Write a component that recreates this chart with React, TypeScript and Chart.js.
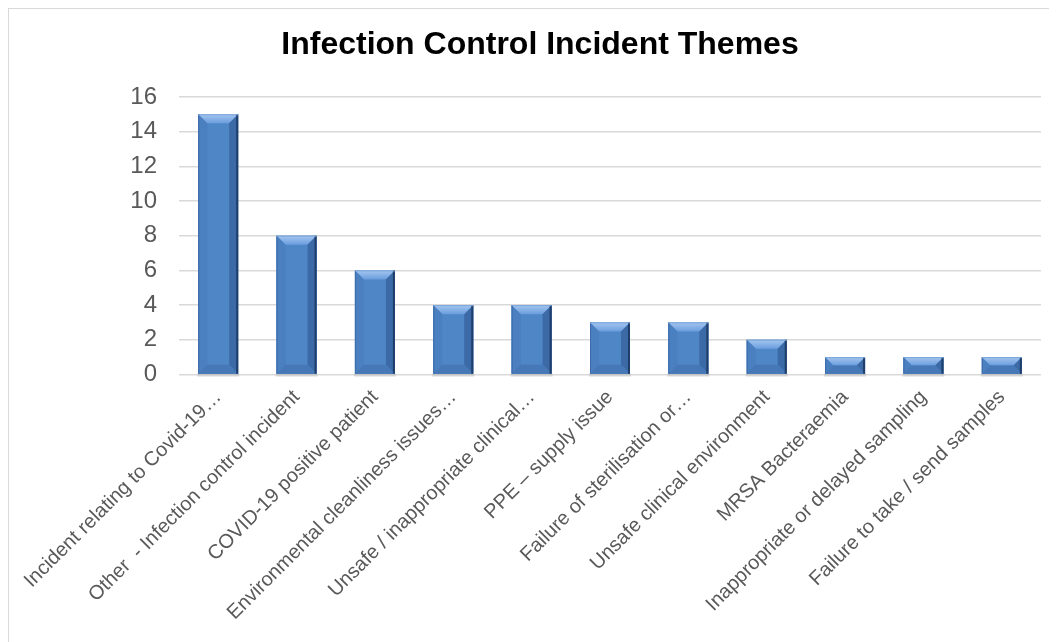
import React, { useEffect, useRef } from "react";
import { Chart, registerables } from "chart.js";

Chart.register(...registerables);

const chartTitle = "Infection Control Incident Themes";

const categories = [
  "Incident relating to Covid-19…",
  "Other  - Infection control incident",
  "COVID-19 positive patient",
  "Environmental cleanliness issues…",
  "Unsafe / inappropriate clinical…",
  "PPE – supply issue",
  "Failure of sterilisation or…",
  "Unsafe clinical environment",
  "MRSA Bacteraemia",
  "Inappropriate or delayed sampling",
  "Failure to take / send samples",
];

const incidentCounts = [15, 8, 6, 4, 4, 3, 3, 2, 1, 1, 1];

const yTickValues = [0, 2, 4, 6, 8, 10, 12, 14, 16];

const FONT = '"Liberation Sans", Arial, sans-serif';

const bevelPlugin = {
  id: "bevelBars",
  beforeDatasetsDraw(chart: any) {
    const ctx = chart.ctx;
    const meta = chart.getDatasetMeta(0);
    ctx.save();
    meta.data.forEach((el: any) => {
      const { x, base, width } = el.getProps(["x", "base", "width"], true);
      ctx.fillStyle = "rgba(0,0,0,0.10)";
      ctx.fillRect(x - width / 2 - 1, base, width + 2, 3);
    });
    ctx.restore();
  },
  afterDatasetsDraw(chart: any) {
    const ctx = chart.ctx;
    const meta = chart.getDatasetMeta(0);
    ctx.save();
    meta.data.forEach((el: any) => {
      const { x, y, base, width } = el.getProps(["x", "y", "base", "width"], true);
      const x0 = x - width / 2;
      const x1 = x + width / 2;
      const yt = y;
      const yb = base;
      const b = Math.min(9, (yb - yt) / 2, width / 2);
      ctx.fillStyle = "#4f86c6";
      ctx.fillRect(x0, yt, x1 - x0, yb - yt);
      const gTop = ctx.createLinearGradient(0, yt, 0, yt + b);
      gTop.addColorStop(0, "#a5c6f0");
      gTop.addColorStop(1, "#6a9ddd");
      ctx.fillStyle = gTop;
      ctx.beginPath();
      ctx.moveTo(x0, yt);
      ctx.lineTo(x1, yt);
      ctx.lineTo(x1 - b, yt + b);
      ctx.lineTo(x0 + b, yt + b);
      ctx.closePath();
      ctx.fill();
      ctx.fillStyle = "#4a7fc0";
      ctx.beginPath();
      ctx.moveTo(x0, yt);
      ctx.lineTo(x0 + b, yt + b);
      ctx.lineTo(x0 + b, yb - b);
      ctx.lineTo(x0, yb);
      ctx.closePath();
      ctx.fill();
      ctx.fillStyle = "#3c6aa6";
      ctx.beginPath();
      ctx.moveTo(x1, yt);
      ctx.lineTo(x1, yb);
      ctx.lineTo(x1 - b, yb - b);
      ctx.lineTo(x1 - b, yt + b);
      ctx.closePath();
      ctx.fill();
      ctx.fillStyle = "#4677b6";
      ctx.beginPath();
      ctx.moveTo(x0, yb);
      ctx.lineTo(x0 + b, yb - b);
      ctx.lineTo(x1 - b, yb - b);
      ctx.lineTo(x1, yb);
      ctx.closePath();
      ctx.fill();
      ctx.fillStyle = "#1f3e6a";
      ctx.fillRect(x1 - 2, yt, 2, yb - yt);
      ctx.fillStyle = "#3e6ca8";
      ctx.fillRect(x0, yt, 1, yb - yt);
      ctx.fillStyle = "#7ea8dc";
      ctx.fillRect(x0, yt, x1 - x0, 1);
    });
    ctx.restore();
  },
};

export default function App() {
  const canvasRef = useRef<HTMLCanvasElement | null>(null);

  useEffect(() => {
    document.body.style.overflow = "hidden";
    const canvas = canvasRef.current;
    if (!canvas) return;
    const chart = new Chart(canvas, {
      type: "bar",
      data: {
        labels: categories,
        datasets: [
          {
            data: incidentCounts,
            backgroundColor: "#4f81bd",
            borderWidth: 0,
            barPercentage: 0.51,
            categoryPercentage: 1,
          },
        ],
      },
      options: {
        responsive: false,
        animation: false,
        layout: { padding: { left: 30, right: 32, top: 0, bottom: 0 } },
        plugins: {
          legend: { display: false },
          tooltip: { enabled: false },
          title: {
            display: true,
            text: chartTitle,
            color: "#000000",
            font: { family: FONT, size: 32, weight: "bold" },
            padding: { top: 17, bottom: 32.6 },
          },
        },
        scales: {
          x: {
            grid: { display: false, drawTicks: false },
            border: { display: false },
            afterFit: (axis: any) => {
              axis.paddingLeft = 0;
              axis.paddingRight = 0;
              axis.height = 267.5;
            },
            ticks: {
              color: "#595959",
              font: { family: FONT, size: 20 },
              minRotation: 45,
              maxRotation: 45,
              autoSkip: false,
              padding: 11,
            },
          },
          y: {
            min: yTickValues[0],
            max: yTickValues[yTickValues.length - 1],
            afterBuildTicks: (axis: any) => {
              axis.ticks = yTickValues.map((v) => ({ value: v }));
            },
            afterFit: (axis: any) => {
              axis.paddingTop = 0;
              axis.paddingBottom = 0;
              axis.width = 140;
            },
            grid: { color: "#d9d9d9", lineWidth: 1.5, drawTicks: false },
            border: { display: false },
            ticks: {
              color: "#595959",
              font: { family: FONT, size: 24 },
              padding: 22,
            },
          },
        },
      },
      plugins: [bevelPlugin],
    });
    return () => chart.destroy();
  }, []);

  return (
    <div
      style={{
        width: 1048,
        height: 633,
        borderTop: "1px solid #d9d9d9",
        borderLeft: "1px solid #d9d9d9",
        overflow: "hidden",
        background: "#ffffff",
      }}
    >
      <canvas
        ref={canvasRef}
        width={1064}
        height={633}
        style={{ display: "block", width: 1064, height: 633 }}
      />
    </div>
  );
}
